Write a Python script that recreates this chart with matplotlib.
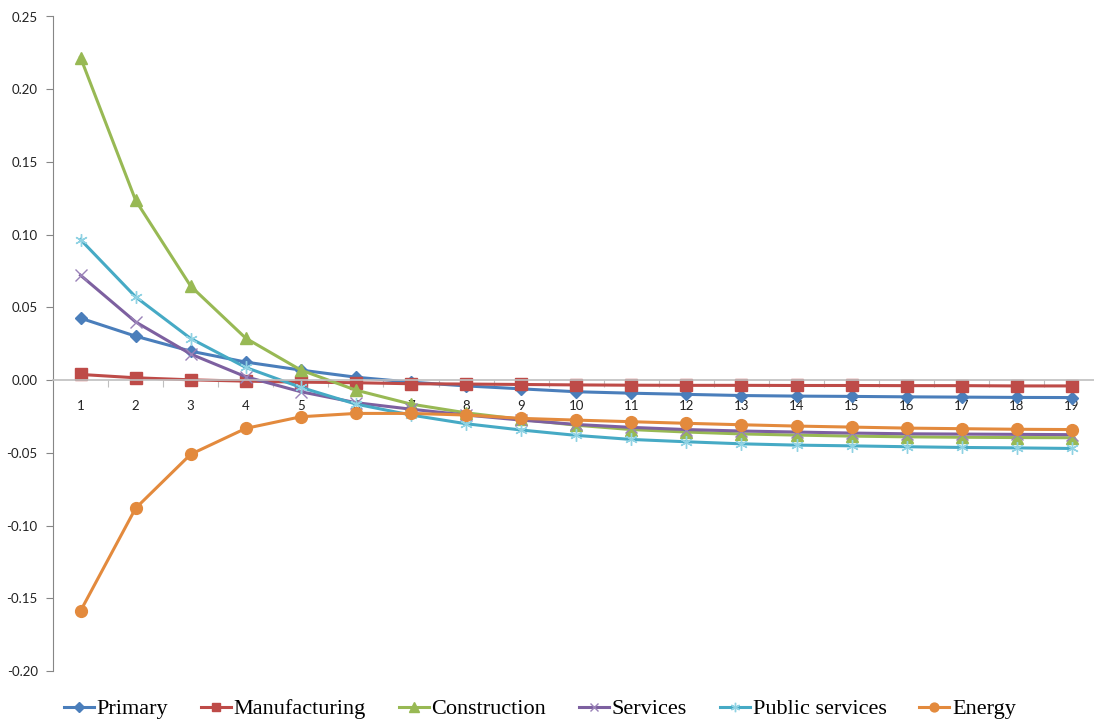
import matplotlib.pyplot as plt
import numpy as np

# periods 1..19
periods = list(range(1, 20))

primary = [0.0426, 0.0302, 0.0199, 0.0124, 0.0069, 0.0020, -0.0014, -0.0040, -0.0060, -0.0080,
           -0.0090, -0.0098, -0.0106, -0.0110, -0.0112, -0.0115, -0.0117, -0.0119, -0.0120]
manufacturing = [0.0039, 0.0016, 0.0002, -0.0007, -0.0014, -0.0018, -0.0025, -0.0027, -0.0030, -0.0033,
                 -0.0035, -0.0036, -0.0036, -0.0037, -0.0037, -0.0038, -0.0038, -0.0040, -0.0040]
construction = [0.2218, 0.1236, 0.0646, 0.0288, 0.0069, -0.0069, -0.0165, -0.0225, -0.0270, -0.0310,
                -0.0340, -0.0357, -0.0370, -0.0378, -0.0385, -0.0390, -0.0393, -0.0395, -0.0396]
services = [0.0721, 0.0400, 0.0179, 0.0023, -0.0080, -0.0155, -0.0200, -0.0240, -0.0275, -0.0305,
            -0.0325, -0.0340, -0.0350, -0.0357, -0.0364, -0.0369, -0.0371, -0.0373, -0.0375]
public_services = [0.0966, 0.0572, 0.0286, 0.0087, -0.0050, -0.0165, -0.0240, -0.0300, -0.0343, -0.0380,
                   -0.0408, -0.0424, -0.0438, -0.0447, -0.0452, -0.0458, -0.0463, -0.0466, -0.0470]
energy = [-0.1587, -0.0881, -0.0510, -0.0332, -0.0252, -0.0229, -0.0229, -0.0240, -0.0263, -0.0275,
          -0.0286, -0.0297, -0.0307, -0.0316, -0.0323, -0.0330, -0.0334, -0.0338, -0.0340]

yticks = [-0.20, -0.15, -0.10, -0.05, 0.00, 0.05, 0.10, 0.15, 0.20, 0.25]
ytick_labels = ["-0.20", "-0.15", "-0.10", "-0.05", "0.00", "0.05", "0.10", "0.15", "0.20", "0.25"]

fig = plt.figure(figsize=(10.94, 7.24), dpi=100)
ax = fig.add_axes([53 / 1094, 53 / 724, (1094 - 53) / 1094, (671 - 16.5) / 724])

lw = 2.2
ax.plot(periods, primary, color='#4A7EBB', lw=lw, marker='D', ms=6.5, label="Primary")
ax.plot(periods, manufacturing, color='#BE4B48', lw=lw, marker='s', ms=8, label="Manufacturing")
ax.plot(periods, construction, color='#98B954', lw=lw, marker='^', ms=9, label="Construction")
ax.plot(periods, services, color='#7D60A0', lw=lw, marker='x', ms=8, mew=1,
        mec='#9a82b8', label="Services")
ax.plot(periods, public_services, color='#46AAC5', lw=lw, marker=(6, 2, 0), ms=9, mew=1,
        mec='#8fd2e3', label="Public services")
ax.plot(periods, energy, color='#E38A3D', lw=lw, marker='o', ms=8.5, label="Energy")

ax.set_xlim(0.5, 19.4)
ax.set_ylim(-0.20, 0.25)

ax.spines['top'].set_visible(False)
ax.spines['right'].set_visible(False)
ax.spines['bottom'].set_position(('data', 0))
ax.spines['bottom'].set_color('#bfbfbf')
ax.spines['bottom'].set_linewidth(1.2)
ax.spines['left'].set_color('#868686')
ax.spines['left'].set_linewidth(0.8)

ax.set_yticks(yticks)
ax.set_yticklabels(ytick_labels)
ax.tick_params(axis='y', direction='out', length=5, width=0.8, color='#868686',
               labelsize=9.5, pad=6, labelcolor='#222222')

ax.set_xticks(periods)
ax.set_xticklabels([str(p) for p in periods])
ax.set_xticks(np.arange(1.5, 19.5, 1), minor=True)
ax.tick_params(axis='x', which='major', length=0, pad=14, labelsize=9.5, labelcolor='#222222')
ax.tick_params(axis='x', which='minor', direction='out', length=5, width=0.8, color='#bfbfbf')
for t in ax.get_xticklabels() + ax.get_yticklabels():
    t.set_family(['Lato', 'DejaVu Sans'])

leg = fig.legend(loc='center', bbox_to_anchor=(540 / 1094, 1 - 709 / 724), ncol=6, frameon=False,
                 prop={'family': 'Liberation Serif', 'size': 16},
                 handlelength=1.35, handletextpad=0.12, columnspacing=1.48, markerscale=0.75,
                 borderpad=0)

fig.savefig("out.png", dpi=100)
